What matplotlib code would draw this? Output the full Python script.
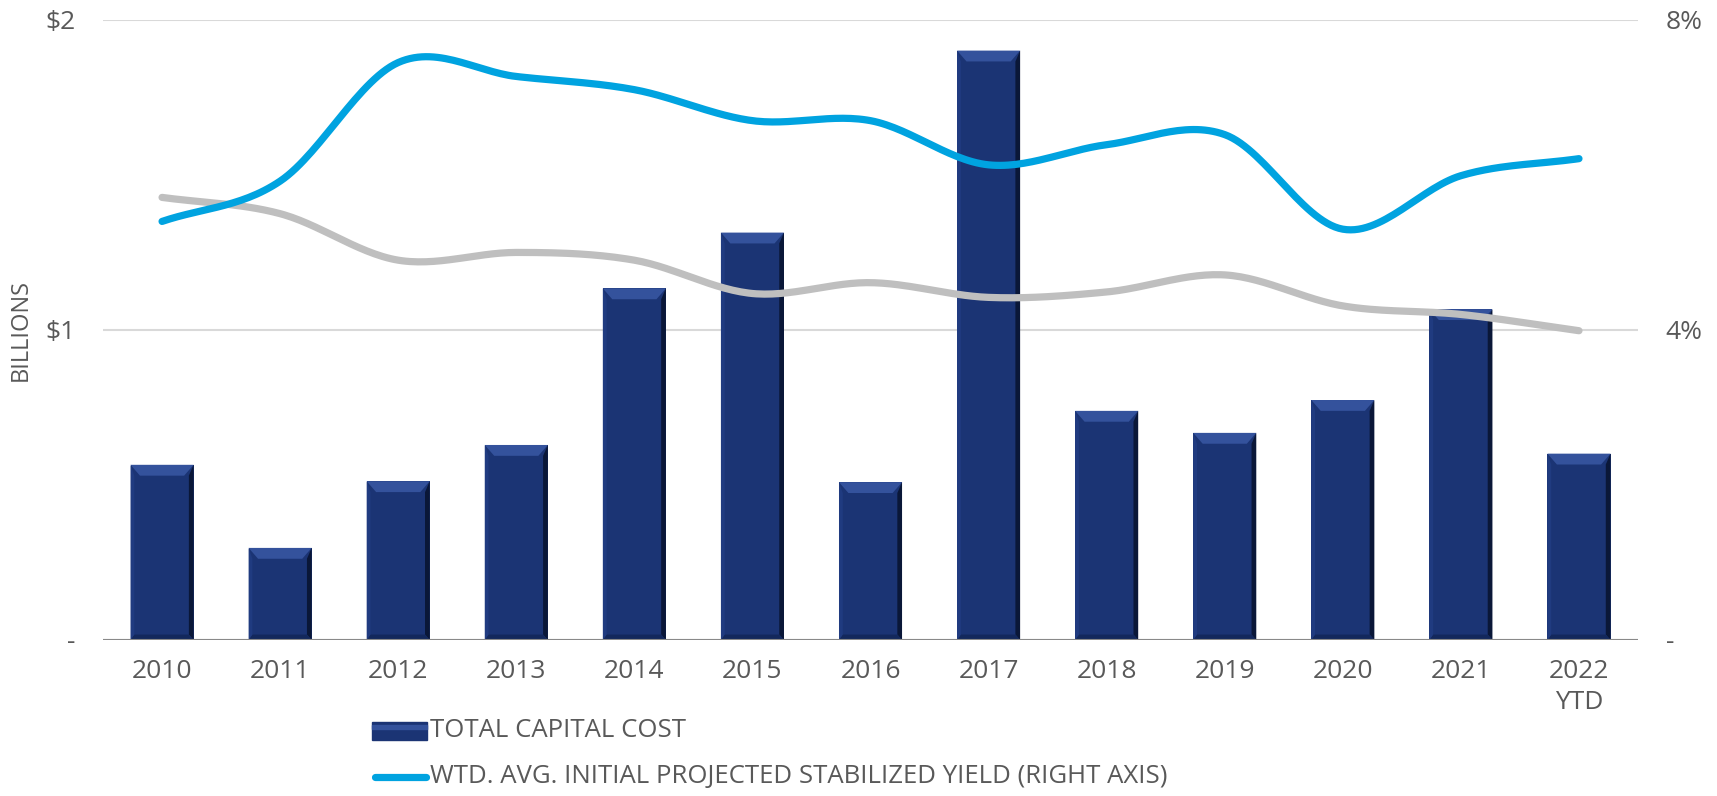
import matplotlib.pyplot as plt
import numpy as np
from matplotlib.patches import Polygon, Rectangle
from matplotlib.lines import Line2D

plt.rcParams['font.family'] = ['Open Sans', 'DejaVu Sans']

years = ['2010', '2011', '2012', '2013', '2014', '2015', '2016',
         '2017', '2018', '2019', '2020', '2021', '2022\nYTD']
capital_cost = [0.565, 0.297, 0.512, 0.629, 1.134, 1.314, 0.509,
                1.901, 0.739, 0.668, 0.774, 1.067, 0.601]
stabilized_yield = [5.40, 5.92, 7.45, 7.27, 7.10, 6.70, 6.70,
                    6.13, 6.39, 6.52, 5.30, 5.99, 6.21]
grey_series = [5.71, 5.50, 4.90, 5.00, 4.90, 4.47, 4.61,
               4.42, 4.49, 4.71, 4.31, 4.20, 3.99]

NAVY = '#1b3474'
NAVY_LIGHT = '#34529c'
NAVY_DARK = '#0a1738'
BLUE = '#00a3e0'
GREY = '#bfbfbf'
TEXT = '#595959'


def smooth(xs, ys, yscale, n=30):
    # Catmull-Rom through the points, done in a roughly isotropic space
    p = np.column_stack([xs, np.asarray(ys) * yscale])
    p = np.vstack([p[0] * 2 - p[1], p, p[-1] * 2 - p[-2]])
    out = []
    t = np.linspace(0, 1, n, endpoint=False)[:, None]
    for i in range(1, len(p) - 2):
        p0, p1, p2, p3 = p[i - 1], p[i], p[i + 1], p[i + 2]
        seg = 0.5 * ((2 * p1) + (-p0 + p2) * t +
                     (2 * p0 - 5 * p1 + 4 * p2 - p3) * t ** 2 +
                     (-p0 + 3 * p1 - 3 * p2 + p3) * t ** 3)
        out.append(seg)
    out.append(p[-2][None, :])
    out = np.vstack(out)
    return out[:, 0], out[:, 1] / yscale


fig = plt.figure(figsize=(17.17, 7.96), dpi=100)
ax = fig.add_axes([0.06, 0.196, 0.894, 0.779])
ax2 = ax.twinx()

x = np.arange(len(years))
width = 0.534
bars = ax.bar(x, capital_cost, width, color=NAVY, zorder=2)

# bevel shading on each bar
sx = 0.08
sy = 0.035
for b in bars:
    x0, x1 = b.get_x(), b.get_x() + b.get_width()
    h = b.get_height()
    ax.add_patch(Polygon([(x0, h), (x1, h), (x1 - sx, h - sy), (x0 + sx, h - sy)],
                         closed=True, color=NAVY_LIGHT, lw=0, zorder=3))
    ax.add_patch(Polygon([(x1, h), (x1, 0), (x1 - sx * 0.5, sy * 0.5), (x1 - sx * 0.5, h - sy)],
                         closed=True, color=NAVY_DARK, lw=0, zorder=3))
    ax.add_patch(Polygon([(x0, 0), (x1, 0), (x1 - sx * 0.5, sy * 0.5), (x0 + sx * 0.4, sy * 0.5)],
                         closed=True, color='#13285c', lw=0, zorder=3))
    ax.add_patch(Polygon([(x0, h), (x0, 0), (x0 + sx * 0.4, sy * 0.5), (x0 + sx * 0.4, h - sy)],
                         closed=True, color='#203b80', lw=0, zorder=3))

ax.set_xlim(-0.5, len(years) - 0.5)
ax.set_ylim(0, 2)
ax2.set_ylim(0, 8)

# category width ~118 px, 1% ~77.5 px
gx, gy = smooth(x, grey_series, 77.5 / 118)
bx, by = smooth(x, stabilized_yield, 77.5 / 118)
ax2.plot(gx, gy, color=GREY, lw=5.2, solid_capstyle='round', zorder=4)
ax2.plot(bx, by, color=BLUE, lw=5.2, solid_capstyle='round', zorder=5)

ax.set_yticks([0, 1, 2])
ax.set_yticklabels(['-', '$1', '$2'])
ax2.set_yticks([0, 4, 8])
ax2.set_yticklabels(['-', '4%', '8%'])
ax.set_xticks(x)
ax.set_xticklabels(years, linespacing=1.3)

for a in (ax, ax2):
    for s in a.spines.values():
        s.set_visible(False)
    a.tick_params(length=0, labelsize=19, colors=TEXT)
ax.tick_params(axis='x', pad=14)
ax.tick_params(axis='y', pad=20)
ax2.tick_params(axis='y', pad=20)

ax.grid(axis='y', color='#d9d9d9', lw=1.5, zorder=0)
ax.set_axisbelow(True)
ax.axhline(0, color='#898989', lw=1.5, zorder=6)
ax2.set_zorder(ax.get_zorder() + 1)
ax2.patch.set_visible(False)

fig.text(21 / 1717, 1 - 330 / 796, 'BILLIONS', fontsize=17, color=TEXT,
         rotation=90, ha='center', va='center')

# legend
fig.patches.append(Rectangle((372 / 1717, 0.0817 - 0.011), 55 / 1717, 0.022,
                             transform=fig.transFigure, color=NAVY, zorder=5))
fig.patches.append(Rectangle((372 / 1717, 0.0817 + 0.003), 55 / 1717, 0.005,
                             transform=fig.transFigure, color=NAVY_LIGHT, zorder=6))
fig.lines.append(Line2D([375 / 1717, 426 / 1717], [0.0239, 0.0239],
                        transform=fig.transFigure, color=BLUE, lw=5.2,
                        solid_capstyle='round'))
fig.text(430 / 1717, 0.0817, 'TOTAL CAPITAL COST', fontsize=18.5, color=TEXT,
         va='center', ha='left')
fig.text(430 / 1717, 0.0239, 'WTD. AVG. INITIAL PROJECTED STABILIZED YIELD (RIGHT AXIS)',
         fontsize=18.5, color=TEXT, va='center', ha='left')

fig.savefig('out.png', dpi=100)
